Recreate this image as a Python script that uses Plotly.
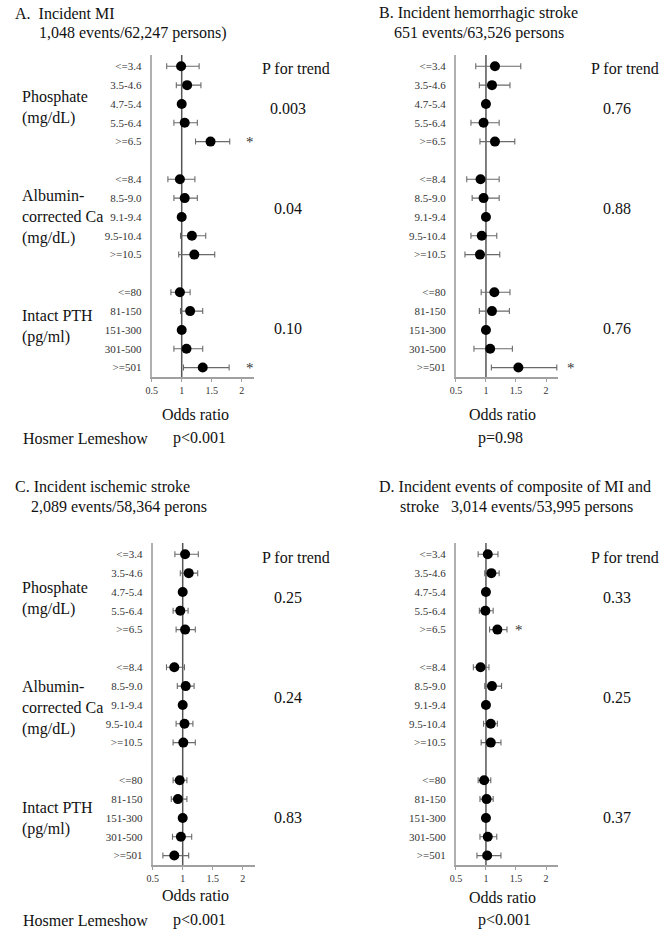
import plotly.graph_objects as go

W, H = 670, 932
FONT = "Liberation Serif"

# ---------------- data ----------------
cat_phos = ["&lt;=3.4", "3.5-4.6", "4.7-5.4", "5.5-6.4", "&gt;=6.5"]
cat_ca = ["&lt;=8.4", "8.5-9.0", "9.1-9.4", "9.5-10.4", "&gt;=10.5"]
cat_pth = ["&lt;=80", "81-150", "151-300", "301-500", "&gt;=501"]
categories = cat_phos + cat_ca + cat_pth

# odds ratios and 95% CI (None = reference category)
or_A = [0.99, 1.09, 1.00, 1.05, 1.48, 0.97, 1.05, 1.00, 1.17, 1.21, 0.97, 1.14, 1.00, 1.08, 1.35]
lo_A = [0.75, 0.91, None, 0.87, 1.23, 0.77, 0.87, None, 0.98, 0.95, 0.82, 0.98, None, 0.87, 1.03]
hi_A = [1.29, 1.32, None, 1.26, 1.80, 1.22, 1.26, None, 1.40, 1.55, 1.14, 1.35, None, 1.35, 1.79]

or_B = [1.15, 1.10, 1.00, 0.96, 1.15, 0.91, 0.96, 1.00, 0.93, 0.90, 1.14, 1.10, 1.00, 1.07, 1.54]
lo_B = [0.83, 0.89, None, 0.75, 0.90, 0.68, 0.77, None, 0.75, 0.65, 0.92, 0.89, None, 0.80, 1.09]
hi_B = [1.58, 1.40, None, 1.22, 1.48, 1.22, 1.22, None, 1.18, 1.23, 1.40, 1.39, None, 1.44, 2.18]

or_C = [1.04, 1.10, 1.00, 0.96, 1.04, 0.86, 1.05, 1.00, 1.03, 1.01, 0.95, 0.92, 1.00, 0.97, 0.86]
lo_C = [0.87, 0.96, None, 0.84, 0.89, 0.73, 0.91, None, 0.89, 0.84, 0.84, 0.81, None, 0.83, 0.67]
hi_C = [1.26, 1.25, None, 1.09, 1.21, 1.03, 1.19, None, 1.17, 1.21, 1.07, 1.07, None, 1.15, 1.10]

or_D = [1.03, 1.09, 1.00, 0.99, 1.19, 0.91, 1.10, 1.00, 1.08, 1.08, 0.97, 1.01, 1.00, 1.03, 1.02]
lo_D = [0.87, 0.98, None, 0.89, 1.06, 0.79, 0.98, None, 0.96, 0.92, 0.87, 0.90, None, 0.90, 0.85]
hi_D = [1.20, 1.22, None, 1.12, 1.35, 1.05, 1.26, None, 1.19, 1.25, 1.08, 1.12, None, 1.18, 1.25]

p_trend_A = ["0.003", "0.04", "0.10"]
p_trend_B = ["0.76", "0.88", "0.76"]
p_trend_C = ["0.25", "0.24", "0.83"]
p_trend_D = ["0.33", "0.25", "0.37"]

hosmer_A = "p&lt;0.001"
hosmer_B = "p=0.98"
hosmer_C = "p&lt;0.001"
hosmer_D = "p&lt;0.001"

# rows flagged with an asterisk
star_A = [">=6.5", ">=501"]
star_B = [">=501"]
star_C = []
star_D = [">=6.5"]

xticks = [0.5, 1, 1.5, 2]

# slot positions: 5 rows per group, one blank row between groups
slots = [g * 6 + r for g in range(3) for r in range(5)]


def px(x):
    return x / W


def py(y):
    return 1 - y / H


panels = [
    dict(key="A", orv=or_A, lo=lo_A, hi=hi_A, xd=(147, 250), yd=(55, 377), stars=star_A, star_x=246),
    dict(key="B", orv=or_B, lo=lo_B, hi=hi_B, xd=(454, 557), yd=(55, 377), stars=star_B, star_x=570),
    dict(key="C", orv=or_C, lo=lo_C, hi=hi_C, xd=(148, 251), yd=(543, 865), stars=star_C, star_x=246),
    dict(key="D", orv=or_D, lo=lo_D, hi=hi_D, xd=(454, 557), yd=(543, 865), stars=star_D, star_x=518),
]

fig = go.Figure()
annotations = []
shapes = []


def add_text(text, x, y, size=16, xanchor="left", color="#111", align="left"):
    annotations.append(dict(
        text=text, x=px(x), y=py(y), xref="paper", yref="paper",
        xanchor=xanchor, yanchor="middle", showarrow=False, align=align,
        font=dict(family=FONT, size=size, color=color)))


plain_cats = [c.replace("&lt;", "<").replace("&gt;", ">") for c in categories]

for i, p in enumerate(panels):
    n = i + 1
    xa = "x" if n == 1 else f"x{n}"
    ya = "y" if n == 1 else f"y{n}"
    plus = [(h - o) if h is not None else 0 for o, h in zip(p["orv"], p["hi"])]
    minus = [(o - l) if l is not None else 0 for o, l in zip(p["orv"], p["lo"])]
    fig.add_trace(go.Scatter(
        x=p["orv"], y=slots, mode="markers", xaxis=xa, yaxis=ya,
        marker=dict(color="black", size=10),
        error_x=dict(type="data", symmetric=False, array=plus, arrayminus=minus,
                     color="#6a6a6a", thickness=1.1, width=3),
        showlegend=False, hoverinfo="x+y"))
    # reference line at OR = 1
    shapes.append(dict(type="line", xref=xa, yref=f"{ya} domain", x0=1, x1=1, y0=0, y1=1,
                       line=dict(color="#555", width=1.5), layer="below"))
    axis_x = dict(
        domain=[px(p["xd"][0]), px(p["xd"][1])], range=[0.5, 2.2],
        anchor=ya, showgrid=False, zeroline=False, showline=True,
        linecolor="#a0a0a0", linewidth=2, tickvals=xticks,
        ticktext=[str(t) for t in xticks], ticks="outside", ticklen=3,
        tickcolor="#a0a0a0", tickfont=dict(family=FONT, size=10, color="#333"))
    axis_y = dict(
        domain=[py(p["yd"][1]), py(p["yd"][0])], range=[16.5, -0.6],
        anchor=xa, showgrid=False, zeroline=False, showline=True,
        linecolor="#b0b0b0", linewidth=2, tickvals=slots, ticktext=categories,
        ticks="", ticklabelstandoff=6,
        tickfont=dict(family=FONT, size=11, color="#333"))
    fig.layout[f"xaxis{'' if n == 1 else n}"] = axis_x
    fig.layout[f"yaxis{'' if n == 1 else n}"] = axis_y
    for s in p["stars"]:
        k = plain_cats.index(s)
        annotations.append(dict(
            text="*", x=px(p["star_x"]), y=slots[k], xref="paper", yref=ya,
            xanchor="center", yanchor="middle", showarrow=False,
            font=dict(family=FONT, size=15, color="#333")))

# ---------------- texts ----------------
add_text("A.  Incident MI", 7, 13)
add_text("1,048 events/62,247 persons)", 31, 33)
add_text("B. Incident hemorrhagic stroke", 477, 13, xanchor="center")
add_text("651 events/63,526 persons", 477, 33, xanchor="center")
add_text("C. Incident ischemic stroke", 7, 487)
add_text("2,089 events/58,364 perons", 23, 507)
add_text("D. Incident events of composite of MI and", 514, 487, xanchor="center")
add_text("stroke   3,014 events/53,995 persons", 515, 507, xanchor="center")

for yc in ([107, 217, 327], [598, 708, 818]):
    add_text("Phosphate<br>(mg/dL)", 14, yc[0])
    add_text("Albumin-<br>corrected Ca<br>(mg/dL)", 14, yc[1])
    add_text("Intact PTH<br>(pg/ml)", 14, yc[2])

for (xc, ytop, vals, pys) in [
    (293, 68, p_trend_A, [108, 208, 328]),
    (625, 68, p_trend_B, [108, 208, 328]),
    (293, 557, p_trend_C, [597, 697, 817]),
    (625, 557, p_trend_D, [597, 697, 817]),
]:
    add_text("P for trend", xc, ytop, xanchor="center")
    for v, yv in zip(vals, pys):
        add_text(v, xc - 8, yv, xanchor="center")

add_text("Odds ratio", 191, 414, xanchor="center")
add_text("Odds ratio", 501, 414, xanchor="center")
add_text("Odds ratio", 191, 895, xanchor="center")
add_text("Odds ratio", 501, 897, xanchor="center")

add_text("Hosmer Lemeshow", 15, 438)
add_text(hosmer_A, 195, 438, xanchor="center")
add_text(hosmer_B, 499, 438, xanchor="center")
add_text("Hosmer Lemeshow", 15, 920)
add_text(hosmer_C, 195, 920, xanchor="center")
add_text(hosmer_D, 503, 920, xanchor="center")

fig.update_layout(
    width=W, height=H, margin=dict(l=0, r=0, t=0, b=0),
    paper_bgcolor="white", plot_bgcolor="white",
    annotations=annotations, shapes=shapes,
    font=dict(family=FONT, color="#111"))

fig.write_html(
    "out.html",
    config={"displayModeBar": False},
    post_script="document.body.style.margin='0';document.body.style.overflow='hidden';"
                "document.documentElement.style.overflow='hidden';")
